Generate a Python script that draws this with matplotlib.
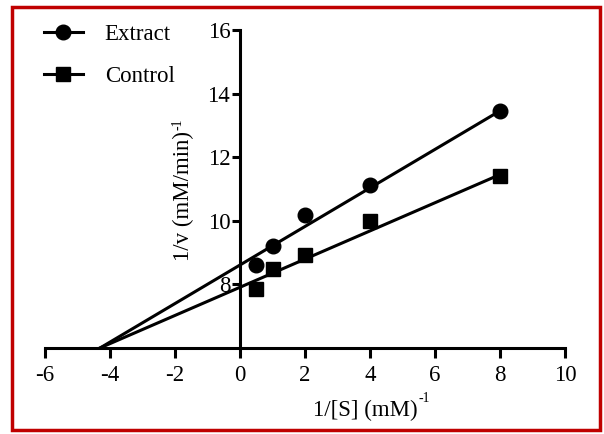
import matplotlib
matplotlib.use("Agg")
import matplotlib.pyplot as plt
import numpy as np
from matplotlib.patches import Rectangle
from matplotlib.lines import Line2D

plt.rcParams['font.family'] = ['Liberation Serif', 'DejaVu Serif']
plt.rcParams['axes.unicode_minus'] = False

# 1/[S] values
inv_s = [0.5, 1, 2, 4, 8]
# 1/v values
extract = [8.6, 9.2, 10.18, 11.13, 13.46]
control = [7.86, 8.48, 8.94, 9.99, 11.42]
# fitted lines (slope, intercept) as drawn
extract_fit = (0.606, 8.61)
control_fit = (0.443, 7.91)

x_ticks = [-6, -4, -2, 0, 2, 4, 6, 8, 10]
y_ticks = [8, 10, 12, 14, 16]

fs = 16.5
lw = 2.2

fig = plt.figure(figsize=(6.04, 4.34), dpi=100)
ax = fig.add_axes([45 / 604, 1 - 348 / 434, 520 / 604, 318 / 434])

ymin = 6
for fit in [extract_fit, control_fit]:
    x0 = (ymin - fit[1]) / fit[0]
    xs = np.array([x0, 8])
    ax.plot(xs, fit[0] * xs + fit[1], color='black', lw=lw, zorder=2)

ax.plot(inv_s, extract, 'o', color='black', ms=10.5, zorder=3)
ax.plot(inv_s, control, 's', color='black', ms=10, zorder=3)

ax.set_xlim(-6, 10)
ax.set_ylim(6, 16)
ax.set_xticks(x_ticks)
ax.set_yticks(y_ticks)
ax.spines['left'].set_position(('data', 0))
ax.spines['right'].set_visible(False)
ax.spines['top'].set_visible(False)
for s in ['left', 'bottom']:
    ax.spines[s].set_linewidth(lw)
ax.tick_params(axis='x', width=lw, length=7, labelsize=fs, pad=5)
ax.tick_params(axis='y', width=lw, length=6, labelsize=fs, pad=1)
ax.patch.set_alpha(0)

handles = [Line2D([], [], color='black', lw=lw, marker='o', ms=10.5),
           Line2D([], [], color='black', lw=lw, marker='s', ms=10)]
fig.legend(handles, ['Extract', 'Control'], loc='upper left',
           bbox_to_anchor=(44 / 604, 1 - 24 / 434), frameon=False,
           fontsize=fs, handlelength=1.7, handletextpad=0.95,
           labelspacing=0.9, borderpad=0, borderaxespad=0)

fig.canvas.draw()
renderer = fig.canvas.get_renderer()

# x label with small "-1" superscript
xl = fig.text(365 / 604, 1 - 410 / 434, '1/[S] (mM)', fontsize=fs,
              ha='center', va='center')
bb = xl.get_window_extent(renderer)
fig.text(bb.x1 / 604 + 0.002, (bb.y1 - 6) / 434, '-1', fontsize=fs * 0.6,
         ha='left', va='bottom')

# y label, rotated
yl = fig.text(183 / 604, 1 - 196 / 434, '1/v (mM/min)', fontsize=fs,
              ha='center', va='center', rotation=90)
bb = yl.get_window_extent(renderer)
fig.text((bb.x0 - 1) / 604, bb.y1 / 434 + 0.003, '-1', fontsize=fs * 0.6,
         ha='left', va='bottom', rotation=90)

fig.patches.append(Rectangle((12 / 604, 1 - 430 / 434), 588 / 604, 423 / 434,
                             transform=fig.transFigure, fill=False,
                             edgecolor='#C00000', lw=2.5))

fig.savefig('out.png', dpi=100)
